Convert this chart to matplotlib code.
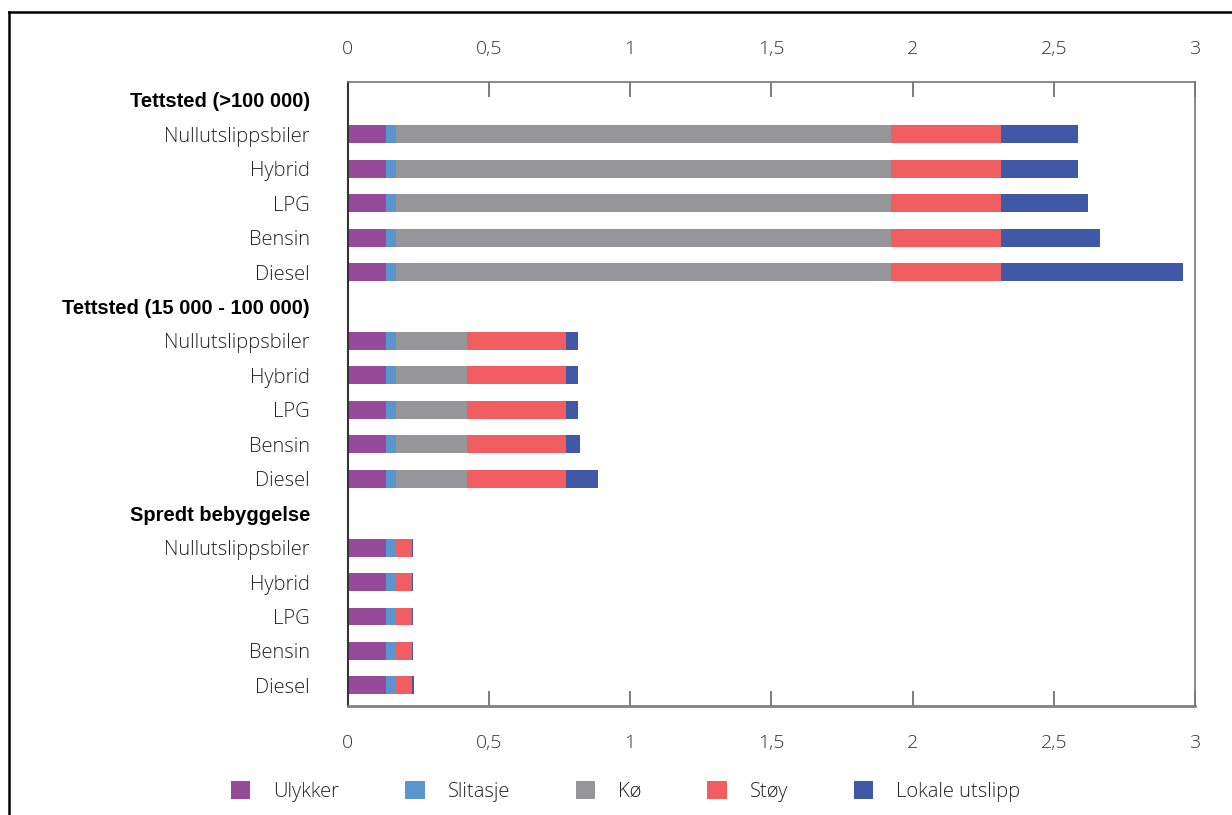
import matplotlib
matplotlib.use("Agg")
import matplotlib.pyplot as plt
from matplotlib.lines import Line2D
from matplotlib.ticker import FuncFormatter

groups = ["Tettsted (>100 000)", "Tettsted (15 000 - 100 000)", "Spredt bebyggelse"]
vehicles = ["Nullutslippsbiler", "Hybrid", "LPG", "Bensin", "Diesel"]

series_names = ["Ulykker", "Slitasje", "Kø", "Støy", "Lokale utslipp"]
colors = ["#964A9A", "#5B95D0", "#969597", "#F15E62", "#4158A7"]

# one value per vehicle row, groups in order
ulykker = [0.137] * 15
slitasje = [0.035] * 15
ko = [1.75] * 5 + [0.25] * 5 + [0.0] * 5
stoy = [0.39] * 5 + [0.35] * 5 + [0.055] * 5
lokale = [0.275, 0.275, 0.31, 0.35, 0.645,
          0.045, 0.045, 0.045, 0.05, 0.115,
          0.003, 0.003, 0.003, 0.003, 0.01]

series = [ulykker, slitasje, ko, stoy, lokale]

xticks = [0, 0.5, 1, 1.5, 2, 2.5, 3]

fig = plt.figure(figsize=(12.32, 8.15), dpi=100)
ax = fig.add_axes([0.2821, 0.1337, 0.6879, 0.7657])

# row layout: header row followed by its five vehicle rows
positions = []
labels = []
header_slots = []
slot = 0
for g in groups:
    labels.append(g)
    header_slots.append(slot)
    slot += 1
    for v in vehicles:
        labels.append(v)
        positions.append(slot)
        slot += 1

left = [0.0] * len(positions)
for name, vals, col in zip(series_names, series, colors):
    ax.barh(positions, vals, left=left, height=0.52, color=col, label=name, linewidth=0)
    left = [a + b for a, b in zip(left, vals)]

ax.set_xlim(0, 3)
ax.set_ylim(17.6, -0.52)
ax.set_yticks(range(len(labels)))
ax.set_yticklabels(labels)
ax.tick_params(axis="y", length=0, pad=27)
for i, t in enumerate(ax.get_yticklabels()):
    if i in header_slots:
        t.set_fontfamily("Liberation Sans")
        t.set_fontweight("bold")
        t.set_fontsize(14.5)
        t.set_color("black")
    else:
        t.set_fontfamily("Open Sans")
        t.set_fontweight("light")
        t.set_fontsize(14.5)
        t.set_color("#222222")

fmt = FuncFormatter(lambda v, p: f"{v:g}".replace(".", ","))

ax.set_xticks(xticks)
ax.xaxis.set_major_formatter(fmt)
ax.tick_params(axis="x", direction="in", length=11, width=1.2, color="#666666",
               top=True, bottom=True, labeltop=False, labelbottom=True, pad=20)
for t in ax.get_xticklabels():
    t.set_fontfamily("Open Sans")
    t.set_fontweight("light")
    t.set_fontsize(14)
    t.set_color("#333333")

# labels along the top edge
top = ax.secondary_xaxis("top")
top.set_xticks(xticks)
top.xaxis.set_major_formatter(fmt)
top.tick_params(axis="x", length=0, pad=17)
top.spines["top"].set_visible(False)
for t in top.get_xticklabels():
    t.set_fontfamily("Open Sans")
    t.set_fontweight("light")
    t.set_fontsize(14)
    t.set_color("#333333")

for side in ["top", "right"]:
    ax.spines[side].set_color("#777777")
    ax.spines[side].set_linewidth(1.2)
ax.spines["bottom"].set_color("#808080")
ax.spines["bottom"].set_linewidth(2)
ax.spines["left"].set_color("#333333")
ax.spines["left"].set_linewidth(1.5)

leg = fig.legend(loc="center", bbox_to_anchor=(0.508, 0.029), ncol=5, frameon=False,
                 prop={"family": "Open Sans", "weight": "light", "size": 14.5},
                 handlelength=0.95, handleheight=1.0, handletextpad=1.15, columnspacing=3.27)
for t in leg.get_texts():
    t.set_color("#222222")

# outer frame lines
fig.add_artist(Line2D([0.0073, 0.0073], [0.0, 0.985], transform=fig.transFigure,
                      color="black", linewidth=1.8))
fig.add_artist(Line2D([0.0073, 1.0], [0.985, 0.985], transform=fig.transFigure,
                      color="black", linewidth=1.8))

fig.savefig("out.png", dpi=100)
